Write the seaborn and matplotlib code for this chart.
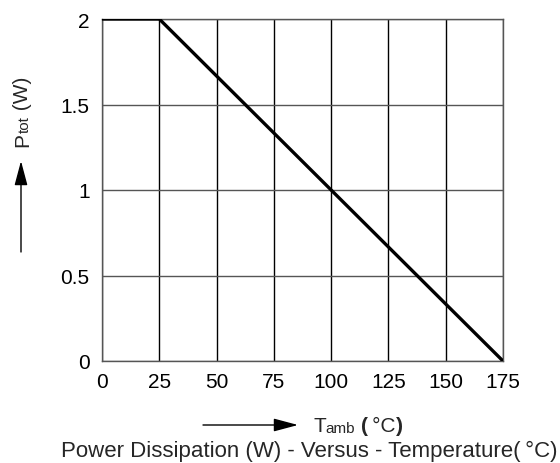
import matplotlib
matplotlib.use("Agg")
import matplotlib.pyplot as plt
import matplotlib.patches as mpatches
import seaborn as sns
import pandas as pd

temps = [0, 25, 175]
power = [2, 2, 0]
xticks = [0, 25, 50, 75, 100, 125, 150, 175]
yticks = [0, 0.5, 1, 1.5, 2]
ytick_labels = ["0", "0.5", "1", "1.5", "2"]

sns.set_style("white")
plt.rcParams['font.family'] = ['Liberation Sans', 'DejaVu Sans']

W, H = 560, 464
fig = plt.figure(figsize=(W / 100, H / 100), dpi=100)
ax = fig.add_axes([102/W, 1 - 362/H, (503-102)/W, (362-20)/H])

df = pd.DataFrame({"T": temps, "P": power})
ax.set_xlim(0, 175)
ax.set_ylim(0, 2)
for x in xticks:
    ax.axvline(x, color="black", lw=1.0, zorder=1)
for y in yticks:
    ax.axhline(y, color="#555555", lw=1.0, zorder=1)
sns.lineplot(data=df, x="T", y="P", ax=ax, color="black", lw=2.4, zorder=3)

ax.set_xticks(xticks)
ax.set_xticklabels([str(v) for v in xticks])
ax.set_yticks(yticks)
ax.set_yticklabels(ytick_labels)
ax.tick_params(axis="both", length=0, labelsize=15, colors="black")
ax.tick_params(axis="y", pad=9)
ax.tick_params(axis="x", pad=8)
ax.set_xlabel("")
ax.set_ylabel("")
for s in ax.spines.values():
    s.set_color("#555555")
    s.set_linewidth(1.0)

renderer = fig.canvas.get_renderer()


def chain(parts, x0, y0, vertical=False):
    """parts: (text, size, weight, baseline shift px). x0,y0 in px from top-left."""
    pos = 0.0
    for txt, size, weight, shift in parts:
        if vertical:
            fx, fy = (x0 + shift) / W, 1 - (y0 - pos) / H
        else:
            fx, fy = (x0 + pos) / W, 1 - (y0 + shift) / H
        t = fig.text(fx, fy, txt, fontsize=size, fontweight=weight,
                     rotation=90 if vertical else 0, rotation_mode="anchor",
                     ha="left", va="baseline")
        bb = t.get_window_extent(renderer)
        pos += bb.height if vertical else bb.width


style = "-|>,head_length=15,head_width=4"

# y-axis label with arrow
chain([("P", 15, "normal", 0), ("tot", 11, "normal", 1), (" (W)", 15, "normal", 0)],
      28, 147, vertical=True)
fig.add_artist(mpatches.FancyArrowPatch(
    (21/W, 1 - 253/H), (21/W, 1 - 162/H), transform=fig.transFigure,
    arrowstyle=style, color="black", lw=1.0,
    mutation_scale=1, shrinkA=0, shrinkB=0))

# x-axis label with arrow
fig.add_artist(mpatches.FancyArrowPatch(
    (203/W, 1 - 426/H), (298/W, 1 - 426/H), transform=fig.transFigure,
    arrowstyle=style, color="black", lw=1.0,
    mutation_scale=1, shrinkA=0, shrinkB=0))
chain([("T", 15, "normal", 0), ("amb", 11, "normal", 1), (" ", 15, "normal", 0),
       ("(", 15, "bold", 0), ("\u2009°C", 15, "normal", 0), (")", 15, "bold", 0)],
      313, 432)

fig.text(309/W, 1 - 457/H, "Power Dissipation (W) - Versus - Temperature(\u2009°C)",
         ha="center", va="baseline", fontsize=16)

fig.savefig("out.png", dpi=100)
